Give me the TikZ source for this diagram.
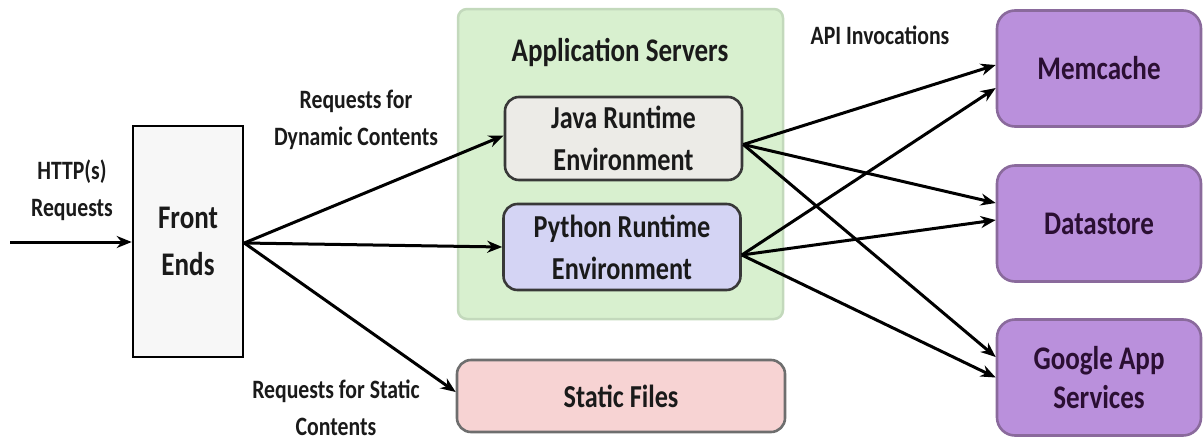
\documentclass[tikz,border=0pt]{standalone}
\usepackage{fontspec}
\setmainfont{Carlito}[FakeStretch=0.82]
\usetikzlibrary{arrows.meta,calc}
\definecolor{grnfill}{HTML}{D8F0CF}
\definecolor{grnline}{HTML}{C3D9BC}
\definecolor{javafill}{HTML}{ECEBE7}
\definecolor{pyfill}{HTML}{D4D4F4}
\definecolor{statfill}{HTML}{F7D3D3}
\definecolor{statline}{HTML}{6E6E6E}
\definecolor{purfill}{HTML}{BA90DC}
\definecolor{purline}{HTML}{8A6A9C}
\definecolor{purtext}{HTML}{2B0F33}
\definecolor{txt}{HTML}{1A1A1A}
\tikzset{
  box/.style={draw, line width=2.6pt, rounded corners=14pt, align=center, inner sep=0pt,
    text=txt, font=\bfseries\fontsize{32}{42}\selectfont},
  purbox/.style={box, fill=purfill, draw=purline, text=purtext,
    minimum width=204pt, minimum height=116pt, rounded corners=18pt},
  lbl/.style={align=center, inner sep=0pt, text=txt, font=\bfseries\fontsize{26.5}{37}\selectfont},
  arr/.style={line width=3pt, -{Stealth[length=15pt,width=12pt]}}
}
\begin{document}
\begin{tikzpicture}[x=1pt,y=-1pt]
\useasboundingbox (0,0) rectangle (1204,442);
% Application servers container
\node[draw=grnline, fill=grnfill, line width=2.5pt, rounded corners=9pt,
  minimum width=325pt, minimum height=310pt, inner sep=0pt] (AS) at (620.5,164) {};
\node[lbl, font=\bfseries\fontsize{33}{40}\selectfont] (AStitle) at (620,52) {Application Servers};
% Front ends
\node[draw=black, fill=white!97!black, line width=2.6pt, minimum width=110pt, minimum height=231pt,
  align=center, inner sep=0pt, text=txt, font=\bfseries\fontsize{33}{47}\selectfont] (FE) at (188,241.5) {Front\\Ends};
% runtimes
\node[box, fill=javafill, draw=black!78, minimum width=237pt, minimum height=83pt] (Java) at (623.5,138.5) {Java Runtime\\Environment};
\node[box, fill=pyfill, draw=black!78, minimum width=237pt, minimum height=86pt] (Py) at (622,247) {Python Runtime\\Environment};
% static files
\node[box, fill=statfill, draw=statline, minimum width=328pt, minimum height=72pt] (Static) at (621,396) {Static Files};
% services
\node[purbox, font=\bfseries\fontsize{33}{42}\selectfont] (Mem) at (1099,68.5) {Memcache};
\node[purbox, font=\bfseries\fontsize{33}{42}\selectfont] (DS) at (1099,223.5) {Datastore};
\node[purbox, font=\bfseries\fontsize{33}{39}\selectfont] (GAS) at (1099,377.5) {Google App\\Services};
% labels
\node[lbl] (lHTTP) at (72,190) {HTTP(s)\\Requests};
\node[lbl] (lDyn) at (356,120) {Requests for\\Dynamic Contents};
\node[lbl, font=\bfseries\fontsize{26.5}{37}\selectfont] (lStat) at (336,408) {Requests for Static\\Contents};
\node[lbl] (lAPI) at (880,35) {API Invocations};
% connectors
\coordinate (in) at (10,242);
\draw[arr] (in) -- (FE.west |- in);
\coordinate (feo) at ($(FE.east)+(0,1.5)$);
\draw[arr] (feo) -- ([yshift=3pt]Java.west);
\draw[arr] (feo) -- (Py.west);
\draw[arr] (feo) -- ([yshift=4pt]Static.west);
\coordinate (jo) at ($(Java.east)+(0,6)$);
\coordinate (po) at ($(Py.east)+(0,8)$);
\draw[arr] (jo) -- ([yshift=3.5pt]Mem.west);
\draw[arr] (jo) -- ([yshift=20.5pt]DS.west);
\draw[arr] (jo) -- ([yshift=20.5pt]GAS.west);
\draw[arr] (po) -- ([yshift=-19.5pt]Mem.west);
\draw[arr] (po) -- ([yshift=3.5pt]DS.west);
\draw[arr] (po) -- (GAS.west);
\end{tikzpicture}
\end{document}
